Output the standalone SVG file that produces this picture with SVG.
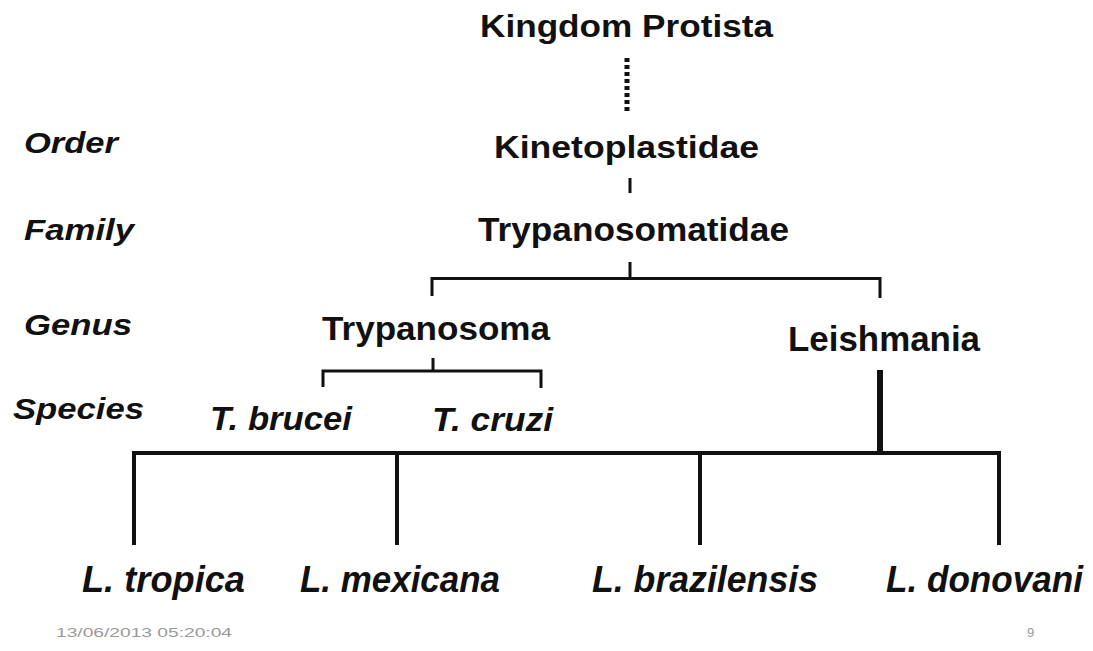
<svg xmlns="http://www.w3.org/2000/svg" width="1093" height="651" viewBox="0 0 1093 651">
<style>
text{font-family:"Liberation Sans",Arial,sans-serif;fill:#111;font-weight:bold}
.n{font-size:31px}
.r{font-size:30px;font-style:italic}
.s{font-size:33px;font-style:italic}
.b{font-size:36px;font-style:italic}
.f{font-size:13px;fill:#999;font-weight:normal}
.c{stroke:#111;fill:none;stroke-linecap:butt}
</style>
<rect width="1093" height="651" fill="#fff"/>
<g id="ranks">
<text class="r" x="24" y="153" textLength="94" lengthAdjust="spacingAndGlyphs">Order</text>
<text class="r" x="24" y="240" textLength="110" lengthAdjust="spacingAndGlyphs">Family</text>
<text class="r" x="24" y="335" textLength="108" lengthAdjust="spacingAndGlyphs">Genus</text>
<text class="r" x="13" y="419" textLength="131" lengthAdjust="spacingAndGlyphs">Species</text>
</g>
<g id="kingdom"><text class="n" x="480" y="37" textLength="293" lengthAdjust="spacingAndGlyphs">Kingdom Protista</text></g>
<g id="order"><text class="n" x="494" y="158" textLength="265" lengthAdjust="spacingAndGlyphs">Kinetoplastidae</text></g>
<g id="family"><text class="n" x="478" y="241" textLength="311" lengthAdjust="spacingAndGlyphs" style="font-size:33px">Trypanosomatidae</text></g>
<g id="trypanosoma"><text class="n" x="322" y="340" textLength="228" lengthAdjust="spacingAndGlyphs" style="font-size:34px">Trypanosoma</text></g>
<g id="leishmania"><text class="n" x="788" y="351" textLength="192" lengthAdjust="spacingAndGlyphs" style="font-size:35px">Leishmania</text></g>
<g id="tbrucei"><text class="s" x="210" y="430" textLength="142" lengthAdjust="spacingAndGlyphs">T. brucei</text></g>
<g id="tcruzi"><text class="s" x="432" y="431" textLength="121" lengthAdjust="spacingAndGlyphs">T. cruzi</text></g>
<g id="ltropica"><text class="b" x="82" y="592" textLength="163" lengthAdjust="spacingAndGlyphs">L. tropica</text></g>
<g id="lmexicana"><text class="b" x="300" y="592" textLength="200" lengthAdjust="spacingAndGlyphs">L. mexicana</text></g>
<g id="lbrazilensis"><text class="b" x="592" y="592" textLength="226" lengthAdjust="spacingAndGlyphs">L. brazilensis</text></g>
<g id="ldonovani"><text class="b" x="886" y="592" textLength="197" lengthAdjust="spacingAndGlyphs">L. donovani</text></g>
<g id="footer">
<text class="f" x="56" y="637" textLength="176" lengthAdjust="spacingAndGlyphs">13/06/2013 05:20:04</text>
<text class="f" x="1027" y="637">9</text>
</g>
<g id="connectors">
<line class="c" x1="627" y1="58" x2="627" y2="112" stroke-width="5" stroke-dasharray="4,3"/>
<line class="c" x1="630" y1="178" x2="630" y2="193" stroke-width="3"/>
<line class="c" x1="630" y1="262" x2="630" y2="279" stroke-width="3"/>
<path class="c" d="M432 296 V278.5 H880 V298" stroke-width="3"/>
<line class="c" x1="433" y1="358" x2="433" y2="371" stroke-width="3"/>
<path class="c" d="M323 387 V371 H541 V388" stroke-width="3"/>
<line class="c" x1="880" y1="370" x2="880" y2="455" stroke-width="6"/>
<path class="c" d="M134 545 V453 H999 V545" stroke-width="4"/>
<line class="c" x1="397" y1="453" x2="397" y2="545" stroke-width="4"/>
<line class="c" x1="700" y1="453" x2="700" y2="545" stroke-width="4"/>
</g>
</svg>
